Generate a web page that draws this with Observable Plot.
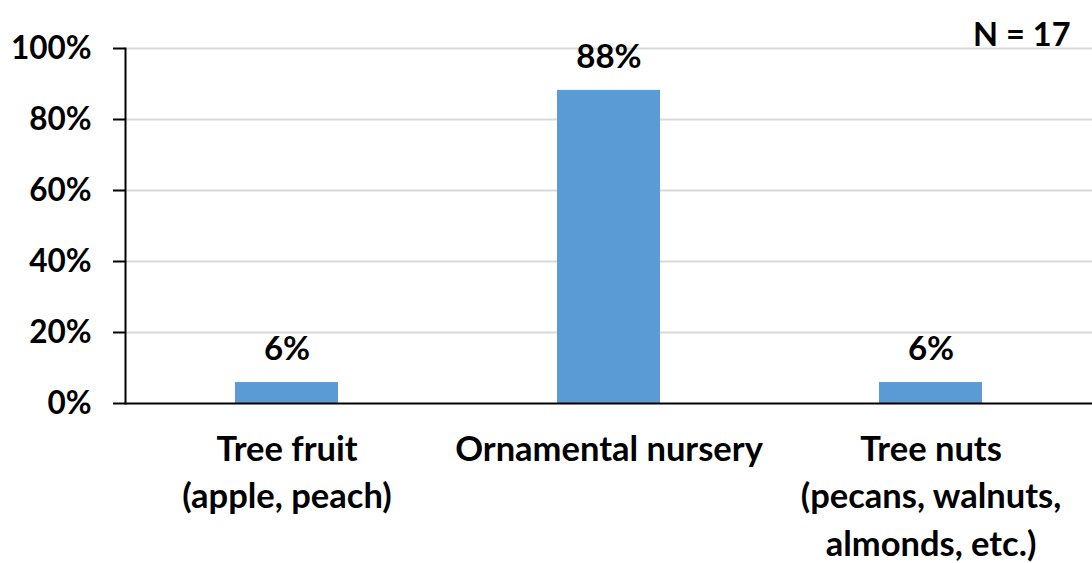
<!DOCTYPE html>
<html><head><meta charset="utf-8">
<script src="https://cdn.jsdelivr.net/npm/d3@7"></script>
<script src="https://cdn.jsdelivr.net/npm/@observablehq/plot@0.6"></script>
<style>
html,body{margin:0;padding:0;background:#fff;}
#chart svg{display:block;}
</style></head>
<body><div id="chart"></div>
<script>
const categories = ["Tree fruit\n(apple, peach)", "Ornamental nursery", "Tree nuts\n(pecans, walnuts,\nalmonds, etc.)"];
const shares = [0.059, 0.882, 0.059];
const shareLabels = ["6%", "88%", "6%"];
const yTicks = [0, 0.2, 0.4, 0.6, 0.8, 1.0];
const note = "N = 17";

const data = categories.map((c, i) => ({category: c, share: shares[i], label: shareLabels[i]}));
const font = "Lato, 'Open Sans', sans-serif";

const chart = Plot.plot({
  width: 1092,
  height: 563,
  marginLeft: 125,
  marginRight: 0,
  marginTop: 48,
  marginBottom: 160,
  style: {fontFamily: font, fontWeight: "bold", fontSize: "30px", color: "#000", background: "#fff"},
  x: {domain: categories, paddingInner: 0.68, paddingOuter: 0.34, label: null},
  y: {domain: [0, 1], label: null},
  marks: [
    Plot.ruleY(yTicks.slice(1), {stroke: "#d9d9d9", strokeWidth: 2, strokeOpacity: 1}),
    Plot.barY(data, {x: "category", y: "share", fill: "#5b9bd5"}),
    Plot.text(data, {x: "category", y: "share", text: "label", dy: -33, fontSize: 33, fontWeight: "bold", fill: "#000"}),
    Plot.axisY({ticks: yTicks, tickFormat: d => Math.round(d * 100) + "%", tickSize: 12, tickPadding: 22, strokeWidth: 2, fontSize: 31.5, fontWeight: "bold", label: null}),
    Plot.axisX({tickSize: 0, tickPadding: 24, fontSize: 34.5, fontWeight: "bold", lineHeight: 1.37, label: null, textAnchor: "middle"}),
    Plot.frame({anchor: "left", stroke: "#000", strokeWidth: 2}),
    Plot.ruleY([0], {stroke: "#000", strokeWidth: 2}),
    Plot.text([note], {frameAnchor: "top-right", dx: -22, dy: -26, fontSize: 32.5, fontWeight: "bold", fill: "#000"})
  ]
});
document.getElementById("chart").appendChild(chart);
</script>
</body></html>
